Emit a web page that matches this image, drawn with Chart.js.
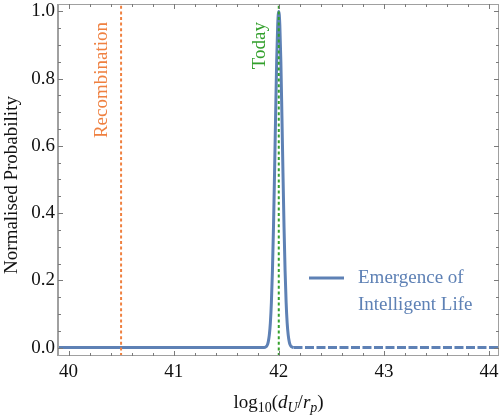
<!DOCTYPE html>
<html><head><meta charset="utf-8">
<script src="https://cdn.jsdelivr.net/npm/chart.js@4/dist/chart.umd.min.js"></script>
<style>html,body{margin:0;padding:0;background:#fff;}#wrap{width:500px;height:417px;position:relative;}</style>
</head><body><div id="wrap"><canvas id="c" width="500" height="417"></canvas></div>
<script>
// ---- data ----
const curveX = [39.9, 41.86, 41.88, 41.89, 41.90, 41.91, 41.92, 41.93, 41.94, 41.95, 41.96, 41.97, 41.98, 41.99, 42.00,
                42.01, 42.02, 42.03, 42.04, 42.05, 42.06, 42.07, 42.08, 42.09, 42.10, 42.11, 42.12, 42.14];
const curveY = [0, 0, 0.003, 0.007, 0.017, 0.037, 0.073, 0.135, 0.23, 0.36, 0.52, 0.69, 0.85, 0.96, 1.0,
                0.96, 0.85, 0.69, 0.52, 0.36, 0.23, 0.135, 0.073, 0.037, 0.017, 0.007, 0.003, 0];
const tailX = [42.14, 44.1];
const tailY = [0, 0];
const seriesLabel = ['Emergence of', 'Intelligent Life'];
const markerNames = ['Recombination', 'Today'];
const markerX = [40.5, 42.0];
const xTickValues = [40, 41, 42, 43, 44];
const yTickValues = [0.0, 0.2, 0.4, 0.6, 0.8, 1.0];
const xLimits = [39.9, 44.095];
const yLimits = [-0.025, 1.022];
const xMinorStep = 0.2;
const yMinorStep = 0.05;

// ---- styles ----
const BLUE = '#5E81B5';
const markerColors = ['#EF8040', '#33A02C'];
const FONT = '"Liberation Serif", "Times New Roman", serif';
const FRAME = '#A0A0A0';
const TICK = '#7A7A7A';

const toPts = (xs, ys) => xs.map((x, i) => ({x: x, y: ys[i]}));

const markerSets = markerX.map((mx, i) => ({
  label: markerNames[i],
  data: [{x: mx, y: yLimits[0]}, {x: mx, y: yLimits[1]}],
  borderColor: markerColors[i],
  borderWidth: 2,
  borderDash: [3, 2.6],
  pointRadius: 0,
  order: 0
}));

const noPad = s => { s.paddingTop = 0; s.paddingBottom = 0; s.paddingLeft = 0; s.paddingRight = 0; };

const framePlugin = {
  id: 'frameTicks',
  afterDatasetsDraw(chart) {
    const ctx = chart.ctx;
    const a = chart.chartArea;
    const xs = chart.scales.x, ys = chart.scales.y;
    ctx.save();
    // frame
    ctx.strokeStyle = FRAME;
    ctx.lineWidth = 1;
    ctx.beginPath();
    ctx.moveTo(a.left, a.top + 0.5); ctx.lineTo(a.right, a.top + 0.5);
    ctx.moveTo(a.right - 0.5, a.top); ctx.lineTo(a.right - 0.5, a.bottom);
    ctx.moveTo(a.left, a.bottom - 0.5); ctx.lineTo(a.right, a.bottom - 0.5);
    ctx.stroke();
    ctx.lineWidth = 2;
    ctx.beginPath();
    ctx.moveTo(a.left, a.top); ctx.lineTo(a.left, a.bottom);
    ctx.stroke();
    // ticks
    ctx.strokeStyle = TICK;
    ctx.lineWidth = 1;
    ctx.beginPath();
    const isMajor = (v, list) => list.some(t => Math.abs(t - v) < 1e-6);
    for (let k = Math.ceil(xLimits[0] / xMinorStep); k * xMinorStep <= xLimits[1] + 1e-9; k++) {
      const v = Math.round(k * xMinorStep * 100) / 100;
      const px = Math.round(xs.getPixelForValue(v)) + 0.5;
      const len = isMajor(v, xTickValues) ? 5 : 3;
      ctx.moveTo(px, a.bottom); ctx.lineTo(px, a.bottom - len);
      ctx.moveTo(px, a.top); ctx.lineTo(px, a.top + len);
    }
    for (let k = Math.ceil(yLimits[0] / yMinorStep); k * yMinorStep <= yLimits[1] + 1e-9; k++) {
      const v = Math.round(k * yMinorStep * 100) / 100;
      const py = Math.round(ys.getPixelForValue(v)) + 0.5;
      const len = isMajor(v, yTickValues) ? 5 : 3;
      ctx.moveTo(a.left, py); ctx.lineTo(a.left + len, py);
      ctx.moveTo(a.right, py); ctx.lineTo(a.right - len, py);
    }
    ctx.stroke();

    // marker labels (rotated)
    ctx.font = '19px ' + FONT;
    ctx.textAlign = 'right';
    ctx.textBaseline = 'alphabetic';
    markerX.forEach((mx, i) => {
      const px = xs.getPixelForValue(mx);
      ctx.save();
      ctx.translate(px - 14, 22);
      ctx.rotate(-Math.PI / 2);
      ctx.fillStyle = markerColors[i];
      ctx.fillText(markerNames[i], 0, 0);
      ctx.restore();
    });

    // legend
    ctx.strokeStyle = BLUE;
    ctx.lineWidth = 3;
    ctx.beginPath();
    ctx.moveTo(309, 278); ctx.lineTo(344, 278);
    ctx.stroke();
    ctx.fillStyle = BLUE;
    ctx.textAlign = 'left';
    ctx.textBaseline = 'middle';
    ctx.fillText(seriesLabel[0], 358, 278);
    ctx.fillText(seriesLabel[1], 358, 305);

    // y axis title
    ctx.save();
    ctx.fillStyle = '#111';
    ctx.textAlign = 'center';
    ctx.textBaseline = 'middle';
    ctx.translate(12, 185);
    ctx.rotate(-Math.PI / 2);
    ctx.fillText('Normalised Probability', 0, 0);
    ctx.restore();

    // x axis title: log10(d_U / r_p)
    const parts = [
      {t: 'log', f: '19px ' + FONT, dy: 0},
      {t: '10', f: '14px ' + FONT, dy: 4},
      {t: '(', f: '19px ' + FONT, dy: 0},
      {t: 'd', f: 'italic 19px ' + FONT, dy: 0},
      {t: 'U', f: 'italic 14px ' + FONT, dy: 4},
      {t: '/', f: '19px ' + FONT, dy: 0},
      {t: 'r', f: 'italic 19px ' + FONT, dy: 0},
      {t: 'p', f: 'italic 14px ' + FONT, dy: 4},
      {t: ')', f: '19px ' + FONT, dy: 0}
    ];
    let total = 0;
    parts.forEach(p => { ctx.font = p.f; p.w = ctx.measureText(p.t).width; total += p.w; });
    let cx = (a.left + a.right) / 2 - total / 2;
    ctx.fillStyle = '#111';
    ctx.textAlign = 'left';
    ctx.textBaseline = 'alphabetic';
    parts.forEach(p => { ctx.font = p.f; ctx.fillText(p.t, cx, 408 + p.dy); cx += p.w; });
    ctx.restore();
  }
};

new Chart(document.getElementById('c'), {
  type: 'line',
  data: {
    datasets: [
      ...markerSets,
      {label: 'curve', data: toPts(curveX, curveY), borderColor: BLUE, borderWidth: 3, pointRadius: 0,
       cubicInterpolationMode: 'monotone', order: 1},
      {label: 'tail', data: toPts(tailX, tailY), borderColor: BLUE, borderWidth: 3, pointRadius: 0,
       borderDash: [9, 2.5], borderDashOffset: 0, order: 1}
    ]
  },
  options: {
    responsive: false,
    animation: false,
    devicePixelRatio: 1,
    layout: {autoPadding: false, padding: {top: 4, right: 1, left: 0, bottom: 0}},
    plugins: {legend: {display: false}, tooltip: {enabled: false}},
    scales: {
      x: {
        type: 'linear', min: xLimits[0], max: xLimits[1],
        grid: {display: false, drawTicks: false}, border: {display: false},
        afterBuildTicks: s => { s.ticks = xTickValues.map(v => ({value: v})); },
        afterFit: s => { s.height = 61; noPad(s); },
        ticks: {color: '#111', font: {family: FONT, size: 19}, padding: 5, maxRotation: 0,
                callback: v => String(v)}
      },
      y: {
        type: 'linear', min: yLimits[0], max: yLimits[1],
        grid: {display: false, drawTicks: false}, border: {display: false},
        afterBuildTicks: s => { s.ticks = yTickValues.map(v => ({value: v})); },
        afterFit: s => { s.width = 58; noPad(s); },
        ticks: {color: '#111', font: {family: FONT, size: 19}, padding: 3,
                callback: v => Number(v).toFixed(1)}
      }
    }
  },
  plugins: [framePlugin]
});
</script></body></html>
